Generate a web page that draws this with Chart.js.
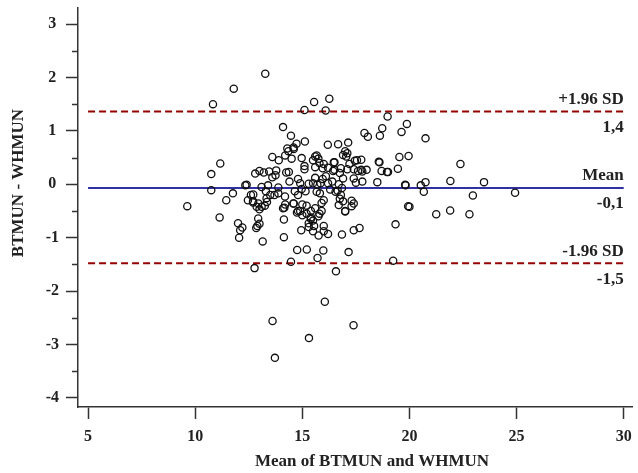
<!DOCTYPE html>
<html>
<head>
<meta charset="utf-8">
<script src="https://cdn.jsdelivr.net/npm/chart.js@4/dist/chart.umd.min.js"></script>
<style>
  body { margin: 0; background: #fff; }
  #wrap { width: 638px; height: 473px; }
</style>
</head>
<body>
<div id="wrap"><canvas id="grafico" width="638" height="473"></canvas></div>
<script>
// mean of the two methods (x) and their difference (y)
const meanValues = [
  13.27, 11.8, 10.83, 15.55, 16.26, 15.1, 16.09, 18.98, 19.88, 14.1, 18.73, 19.63, 17.9, 18.06, 18.62, 14.47, 20.75, 15.12, 14.73, 14.59,
  14.3, 16.19, 16.67, 17.14, 17.0, 17.1, 17.05, 16.9, 14.2, 13.9, 13.6, 14.5, 14.97, 15.6, 15.75, 15.5, 17.55, 17.75, 16.5, 17.2,
  18.57, 19.53, 19.96, 15.1, 15.6, 15.95, 16.2, 16.5, 16.8, 17.1, 17.4, 17.75, 18.0, 18.7, 18.95, 19.46, 13.78, 14.37, 22.38, 11.17,
  10.75, 12.8, 13.0, 13.2, 13.45, 13.75, 12.34, 14.35, 14.6, 15.67, 15.8, 16.0, 14.25, 13.6, 15.1, 14.9, 15.3, 15.5, 15.7, 15.85,
  14.8, 15.6, 12.4, 13.4, 13.88, 13.88, 14.65, 14.97, 15.15, 15.67, 15.82, 12.6, 12.7, 12.87, 13.0, 13.25, 13.33, 14.19, 14.16, 14.58,
  14.8, 15.0, 12.94, 15.2, 15.4, 15.6, 15.8, 15.4, 15.75, 14.8, 16.47, 16.44, 16.75, 16.9, 17.45, 17.6, 17.8, 18.6, 19.0, 15.95,
  16.2, 16.4, 16.7, 17.4, 17.5, 17.8, 18.5, 19.8, 16.3, 16.55, 16.65, 16.85, 16.8, 16.75, 16.9, 16.7, 17.3, 17.0, 15.9, 16.0,
  15.9, 19.82, 20.75, 20.53, 21.91, 23.48, 20.67, 22.96, 24.93, 20.0, 21.25, 21.9, 22.8, 10.75, 9.63, 11.76, 11.45, 12.71, 13.1, 13.3,
  13.5, 13.7, 11.14, 12.7, 12.95, 13.1, 13.35, 13.0, 12.9, 12.85, 12.0, 12.2, 12.1, 12.05, 13.15, 12.77, 14.2, 14.6, 15.0, 14.1,
  14.75, 14.9, 15.2, 15.4, 15.3, 15.5, 15.55, 15.3, 16.0, 16.0, 16.2, 15.5, 14.14, 14.95, 14.14, 15.76, 16.85, 17.4, 17.67, 17.0,
  17.3, 17.4, 19.35, 19.94, 14.76, 15.21, 15.98, 17.16, 15.71, 14.47, 19.24, 16.57, 16.05, 13.61, 17.39, 15.31, 13.72, 12.46, 14.4, 16.1
];
const diffValues = [
  2.07, 1.79, 1.50, 1.54, 1.60, 1.39, 1.38, 1.27, 1.13, 1.07, 1.05, 0.98, 0.96, 0.89, 0.91, 0.91, 0.86, 0.80, 0.76, 0.69,
  0.67, 0.74, 0.75, 0.78, 0.62, 0.58, 0.52, 0.55, 0.54, 0.45, 0.51, 0.48, 0.49, 0.52, 0.48, 0.45, 0.45, 0.46, 0.41, 0.38,
  0.42, 0.51, 0.53, 0.34, 0.32, 0.30, 0.31, 0.27, 0.30, 0.28, 0.28, 0.27, 0.27, 0.25, 0.23, 0.29, 0.26, 0.23, 0.38, 0.39,
  0.19, 0.20, 0.25, 0.22, 0.24, 0.17, -0.02, 0.62, 0.66, 0.54, 0.40, 0.38, 0.22, 0.13, 0.28, 0.02, 0.01, 0.02, -0.01, 0.02,
  0.10, 0.12, -0.01, -0.02, -0.06, -0.17, -0.13, -0.09, -0.13, -0.14, -0.17, -0.20, -0.34, -0.42, -0.47, -0.40, -0.26, -0.23, -0.44, -0.36,
  -0.50, -0.58, -0.64, -0.40, -0.50, -0.45, -0.55, -0.62, -0.60, -0.20, 0.41, 0.25, 0.21, 0.11, 0.44, 0.25, 0.24, 0.41, 0.23, 0.10,
  0.02, 0.05, 0.00, 0.11, 0.03, 0.05, 0.04, -0.01, -0.10, -0.14, -0.12, -0.07, -0.20, -0.27, -0.32, -0.39, -0.31, -0.50, -0.35, -0.30,
  -0.50, -0.02, 0.04, -0.02, 0.06, 0.04, -0.14, -0.21, -0.16, -0.42, -0.56, -0.49, -0.56, -0.11, -0.41, -0.17, -0.30, -0.19, -0.05, -0.13,
  -0.20, -0.20, -0.62, -0.32, -0.36, -0.42, -0.33, -0.74, -0.78, -0.82, -0.73, -0.81, -0.86, -1.00, -1.07, -1.57, -0.38, -0.36, -0.38, -0.45,
  -0.53, -0.50, -0.55, -0.65, -0.73, -0.68, -0.78, -0.80, -0.78, -0.88, -0.93, -0.88, -0.66, -0.86, -0.99, -0.96, -0.94, -0.86, -0.82, -0.51,
  -0.41, -0.36, -0.75, -0.41, -1.23, -1.22, -1.24, -1.27, -1.38, -1.45, -1.43, -1.63, -2.20, -2.56, -2.64, -2.88, -3.25, -0.30, 0.05, 0.15
];

// Bland-Altman lines: mean and limits of agreement
const limitValues = [1.36, -0.07, -1.48];
const limitNames = ['+1.96 SD', 'Mean', '-1.96 SD'];
const limitTexts = ['1,4', '-0,1', '-1,5'];
const limitColors = ['#960000', '#3030a0', '#960000'];

const xTicks = [5, 10, 15, 20, 25, 30];
const yTicks = [-4, -3, -2, -1, 0, 1, 2, 3];
const yMinorTicks = [-3.5, -2.5, -1.5, -0.5, 0.5, 1.5, 2.5];
const xTitle = 'Mean of BTMUN and WHMUN';
const yTitle = 'BTMUN - WHMUN';

const pontos = meanValues.map((m, i) => ({ x: m, y: diffValues[i] }));

const linhas = limitValues.map((v, i) => ({
  type: 'line',
  data: [{ x: 5, y: v }, { x: 30, y: v }],
  borderColor: limitColors[i],
  borderWidth: 2,
  borderDash: i === 1 ? [] : [7, 4],
  pointRadius: 0,
  order: 2
}));

const extras = {
  id: 'extras',
  afterDraw(chart) {
    const ctx = chart.ctx;
    const xs = chart.scales.x;
    const ys = chart.scales.y;
    ctx.save();
    // minor ticks on y
    ctx.strokeStyle = '#333';
    ctx.lineWidth = 1.5;
    yMinorTicks.forEach(v => {
      const py = Math.round(ys.getPixelForValue(v)) + 0.5;
      ctx.beginPath();
      ctx.moveTo(xs.left - 6, py);
      ctx.lineTo(xs.left, py);
      ctx.stroke();
    });
    // labels of the lines
    ctx.font = 'bold 17px "Liberation Serif", "Times New Roman", serif';
    ctx.fillStyle = '#222';
    ctx.textAlign = 'right';
    ctx.textBaseline = 'middle';
    const xr = xs.getPixelForValue(30);
    limitValues.forEach((v, i) => {
      const py = ys.getPixelForValue(v);
      ctx.fillText(limitNames[i], xr, py - 12);
      ctx.fillText(limitTexts[i], xr, py + 16);
    });
    // axis titles
    ctx.textAlign = 'center';
    ctx.fillText(xTitle, 372, 462);
    ctx.translate(19, 183);
    ctx.rotate(-Math.PI / 2);
    ctx.fillText(yTitle, 0, 0);
    ctx.restore();
  }
};

new Chart(document.getElementById('grafico'), {
  type: 'scatter',
  data: {
    datasets: [{
      data: pontos,
      pointRadius: 3.6,
      pointBorderWidth: 1.3,
      borderColor: '#111',
      backgroundColor: 'rgba(0,0,0,0)',
      order: 1
    }].concat(linhas)
  },
  options: {
    responsive: false,
    animation: false,
    layout: { padding: { top: 8, right: 1, left: 0, bottom: 0 } },
    plugins: { legend: { display: false }, tooltip: { enabled: false } },
    scales: {
      x: {
        type: 'linear',
        min: 4.53,
        max: 30.42,
        afterFit: s => { s.height = 66; s.paddingLeft = 0; s.paddingRight = 0; },
        afterBuildTicks: s => { s.ticks = xTicks.map(v => ({ value: v })); },
        grid: { drawOnChartArea: false, tickLength: 12, color: '#333', tickWidth: 1.5 },
        border: { color: '#333', width: 1.5 },
        ticks: { color: '#222', padding: 8, font: { family: '"Liberation Serif", serif', size: 16, weight: 'bold' }, maxRotation: 0 }
      },
      y: {
        type: 'linear',
        min: -4.17,
        max: 3.3,
        afterFit: s => { s.width = 78; s.paddingTop = 0; s.paddingBottom = 0; },
        afterBuildTicks: s => { s.ticks = yTicks.map(v => ({ value: v })); },
        grid: { drawOnChartArea: false, tickLength: 12, color: '#333', tickWidth: 1.5 },
        border: { color: '#333', width: 1.5 },
        ticks: { color: '#222', padding: 7, crossAlign: 'center', font: { family: '"Liberation Serif", serif', size: 16, weight: 'bold' } }
      }
    }
  },
  plugins: [extras]
});
</script>
</body>
</html>
